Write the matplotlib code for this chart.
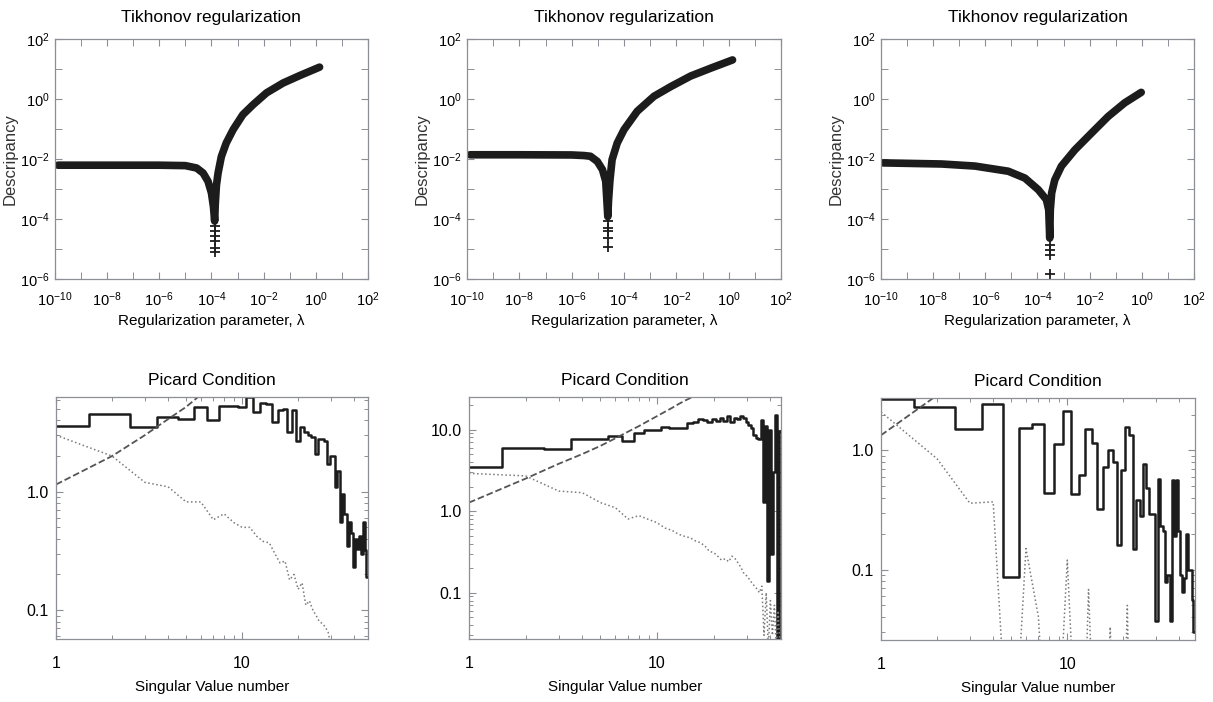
import numpy as np
import matplotlib.pyplot as plt
from matplotlib.ticker import FixedLocator, NullFormatter, LogLocator, FuncFormatter

plt.rcParams['font.family'] = ['Liberation Sans', 'DejaVu Sans']
plt.rcParams['mathtext.default'] = 'regular'

# ---- discrepancy vs regularization parameter (three data sets) ----
lam_a = [1.3e-10, 1e-8, 1e-6, 1e-5, 2.7e-5, 4.8e-5, 7.4e-5, 1.0e-4, 1.2e-4, 1.33e-4,
         1.4e-4, 1.55e-4, 1.8e-4, 2.4e-4, 3.7e-4, 6.8e-4, 1.6e-3, 4.0e-3, 1.3e-2,
         5.6e-2, 0.24, 1.4]
disc_a = [6.2e-3, 6.2e-3, 6.2e-3, 6.0e-3, 5.0e-3, 3.4e-3, 1.8e-3, 7.4e-4, 2.5e-4, 8.5e-5,
          3.0e-4, 1.3e-3, 3.4e-3, 1.2e-2, 3.4e-2, 9.5e-2, 0.30, 0.65, 1.6,
          3.4, 6.0, 11.5]
lam_a_tail = [1.35e-4, 1.35e-4, 1.35e-4, 1.35e-4, 1.35e-4, 1.35e-4]
disc_a_tail = [6e-5, 4e-5, 2.8e-5, 1.9e-5, 1.1e-5, 8e-6]

lam_b = [1.3e-10, 1e-8, 1e-6, 3e-6, 5.2e-6, 9.5e-6, 1.5e-5, 2.0e-5, 2.2e-5, 2.4e-5,
         2.55e-5, 2.9e-5, 3.5e-5, 5.5e-5, 1.0e-4, 3.2e-4, 1.4e-3, 6.2e-3, 3.5e-2,
         0.21, 1.4]
disc_b = [1.38e-2, 1.38e-2, 1.36e-2, 1.3e-2, 1.23e-2, 8.3e-3, 4.4e-3, 1.8e-3, 4.4e-4, 1.2e-4,
          4e-4, 2.0e-3, 9.5e-3, 3.4e-2, 9.5e-2, 0.39, 1.23, 2.6, 5.8,
          10.7, 20.0]
lam_b_tail = [2.45e-5, 2.45e-5, 2.45e-5, 2.45e-5, 2.45e-5]
disc_b_tail = [8.3e-5, 5e-5, 3.9e-5, 2.3e-5, 1.2e-5]

lam_c = [1.2e-10, 2.1e-8, 4e-7, 7.6e-6, 3.3e-5, 1.07e-4, 2.2e-4, 2.7e-4, 2.95e-4,
         3.1e-4, 3.5e-4, 4.6e-4, 8.3e-4, 2.7e-3, 1.2e-2, 5.1e-2, 0.22, 0.95]
disc_c = [7.4e-3, 6.8e-3, 5.8e-3, 3.9e-3, 2.3e-3, 9.5e-4, 4.4e-4, 2.0e-4, 2.3e-5,
          2.0e-4, 7.4e-4, 2.0e-3, 5.8e-3, 2.0e-2, 7.4e-2, 0.26, 0.74, 1.66]
lam_c_tail = [2.95e-4, 2.95e-4, 2.95e-4, 2.95e-4]
disc_c_tail = [1.4e-5, 9.5e-6, 6.5e-6, 1.5e-6]

# ---- Picard plots: ratio (solid), |u_i^T b| (dotted), 1/s_i (dashed) ----
ratio_a = [3.6, 4.5, 3.5, 4.3, 4.1, 5.2, 4.0, 5.3, 5.3, 5.2,
           6.3, 4.7, 5.6, 5.5, 3.9, 4.9, 5.0, 3.2, 4.9, 2.7,
           3.5, 3.2, 3.0, 2.9, 2.1, 2.8, 2.8, 2.7, 1.7, 2.0,
           2.0, 1.1, 1.5, 0.55, 0.95, 0.65, 0.35, 0.55, 0.45, 0.23,
           0.40, 0.33, 0.42, 0.30, 0.55, 0.32, 0.19]
coef_a = [3.0, 2.0, 1.2, 1.1, 0.82, 0.82, 0.58, 0.65, 0.55, 0.5,
          0.5, 0.42, 0.38, 0.37, 0.30, 0.25, 0.26, 0.18, 0.20, 0.15,
          0.17, 0.11, 0.12, 0.10, 0.09, 0.08, 0.077, 0.072, 0.065, 0.05, 0.04]
inv_sv_a = [1.15, 2.0, 3.0, 4.1, 5.2, 6.6, 8.2]

ratio_b = [3.5, 6.0, 5.7, 7.6, 7.6, 8.3, 7.3, 9.0, 10.0, 9.8,
           10.8, 10.5, 10.3, 10.4, 12.0, 12.2, 13.3, 13.0, 12.4, 13.3,
           12.6, 14.0, 12.6, 14.5, 12.3, 14.0, 13.5, 14.5, 14.0, 12.5,
           11.5, 10.5, 8.5, 7.8, 7.6, 13.0, 1.3, 11.0, 0.14, 10.0,
           0.3, 3.0, 15.0, 0.025, 9.5]
coef_b = [2.9, 2.7, 1.76, 1.68, 1.27, 1.1, 0.8, 0.88, 0.79, 0.72,
          0.62, 0.58, 0.52, 0.49, 0.47, 0.43, 0.41, 0.37, 0.32, 0.31,
          0.28, 0.25, 0.26, 0.24, 0.28, 0.26, 0.23, 0.20, 0.17, 0.16,
          0.145, 0.13, 0.12, 0.11, 0.10, 0.12, 0.03, 0.10, 0.02, 0.08,
          0.03, 0.07, 0.02, 0.06, 0.02]
inv_sv_b = [1.27, 2.5, 3.8, 5.0, 6.3, 7.8, 9.4, 11.0, 12.8, 14.6,
            16.5, 18.4, 20.5, 22.5, 24.3, 27.0, 29.5]

ratio_c = [2.7, 2.3, 1.5, 2.45, 0.087, 1.55, 1.67, 0.44, 1.14, 2.14,
           0.43, 0.62, 1.52, 1.16, 0.32, 0.73, 1.0, 0.8, 0.16, 0.68,
           1.57, 1.34, 0.15, 0.38, 0.28, 0.77, 0.48, 0.29, 0.29, 0.037,
           0.58, 0.23, 0.21, 0.079, 0.09, 0.037, 0.56, 0.19, 0.56, 0.21,
           0.09, 0.065, 0.085, 0.2, 0.1, 0.1, 0.055, 0.03]
coef_c = [2.1, 0.85, 0.36, 0.37, 0.001, 0.15, 0.04, 0.001, 0.005, 0.12,
          0.005, 0.001, 0.068, 0.003, 0.001, 0.004, 0.033, 0.002, 0.001, 0.003,
          0.05, 0.001]
inv_sv_c = [1.34, 2.9, 4.6]

FRAME = '#8c8f96'
INK = '#1c1c1c'


def style_frame(ax):
    for s in ax.spines.values():
        s.set_color(FRAME)
        s.set_linewidth(0.9)
    ax.tick_params(which='both', direction='in', top=True, right=True, color=FRAME)
    ax.tick_params(which='major', length=5, width=0.8)
    ax.tick_params(which='minor', length=3, width=0.7)


def tikhonov_panel(ax, lam, disc, lam_tail, disc_tail):
    ax.plot(lam, disc, color=INK, lw=5.5, solid_joinstyle='round', solid_capstyle='round')
    ax.plot(lam_tail, disc_tail, '+', color=INK, ms=6.5, mew=1.3)
    ax.set_xscale('log')
    ax.set_yscale('log')
    ax.set_xlim(1e-10, 1e2)
    ax.set_ylim(1e-6, 1e2)
    ax.xaxis.set_major_locator(FixedLocator(10.0 ** np.arange(-10, 3, 2)))
    ax.xaxis.set_minor_locator(FixedLocator(10.0 ** np.arange(-9, 2, 2)))
    ax.yaxis.set_major_locator(FixedLocator(10.0 ** np.arange(-6, 3, 2)))
    ax.yaxis.set_minor_locator(FixedLocator(10.0 ** np.arange(-5, 2, 2)))
    ax.xaxis.set_minor_formatter(NullFormatter())
    ax.yaxis.set_minor_formatter(NullFormatter())
    style_frame(ax)
    ax.tick_params(which='minor', length=5)
    ax.tick_params(axis='x', pad=8, labelsize=10.5)
    ax.tick_params(axis='y', pad=4, labelsize=10.5)
    ax.set_title('Tikhonov regularization', fontsize=12.5, pad=12)
    ax.set_xlabel('Regularization parameter, λ', fontsize=11, labelpad=4)
    ax.set_ylabel('Descripancy', fontsize=12, color='#333333')
    ax.yaxis.set_label_coords(-0.118, 0.5)


def picard_panel(ax, ratio, coef, inv_sv, ylim, yticks):
    ax.step(np.arange(1, len(ratio) + 1), ratio, where='mid', color=INK, lw=1.8)
    ax.plot(np.arange(1, len(coef) + 1), coef, ':', color='#7a7a7a', lw=1.1)
    ax.plot(np.arange(1, len(inv_sv) + 1), inv_sv, '--', color='#555555', lw=1.3)
    ax.set_xscale('log')
    ax.set_yscale('log')
    ax.set_xlim(1, len(ratio) + 0.5)
    ax.set_ylim(*ylim)
    ax.xaxis.set_major_locator(FixedLocator([1, 10]))
    ax.xaxis.set_major_formatter(FuncFormatter(lambda v, p: '%d' % v))
    ax.xaxis.set_minor_locator(LogLocator(subs=np.arange(2, 10)))
    ax.xaxis.set_minor_formatter(NullFormatter())
    ax.yaxis.set_major_locator(FixedLocator(yticks))
    ax.yaxis.set_major_formatter(FuncFormatter(lambda v, p: '%.1f' % v))
    ax.yaxis.set_minor_locator(LogLocator(subs=np.arange(2, 10)))
    ax.yaxis.set_minor_formatter(NullFormatter())
    style_frame(ax)
    ax.tick_params(axis='x', pad=12, labelsize=11.5)
    ax.tick_params(axis='y', pad=5, labelsize=11.5)
    ax.set_title('Picard Condition', fontsize=12.5, pad=9)
    ax.set_xlabel('Singular Value number', fontsize=11, labelpad=7)


fig = plt.figure(figsize=(12.13, 7.02), dpi=100)

top_axes = [fig.add_axes([0.0453, 0.6026, 0.258, 0.3419]),
            fig.add_axes([0.385, 0.6026, 0.2589, 0.3419]),
            fig.add_axes([0.7263, 0.6026, 0.258, 0.3419])]
tikhonov_panel(top_axes[0], lam_a, disc_a, lam_a_tail, disc_a_tail)
tikhonov_panel(top_axes[1], lam_b, disc_b, lam_b_tail, disc_b_tail)
tikhonov_panel(top_axes[2], lam_c, disc_c, lam_c_tail, disc_c_tail)

bot_axes = [fig.add_axes([0.0462, 0.0897, 0.2572, 0.3447]),
            fig.add_axes([0.3866, 0.0897, 0.2572, 0.3447]),
            fig.add_axes([0.7263, 0.0883, 0.2589, 0.3447])]
picard_panel(bot_axes[0], ratio_a, coef_a, inv_sv_a, (0.057, 6.3), [0.1, 1.0])
picard_panel(bot_axes[1], ratio_b, coef_b, inv_sv_b, (0.027, 25.0), [0.1, 1.0, 10.0])
picard_panel(bot_axes[2], ratio_c, coef_c, inv_sv_c, (0.0256, 2.75), [0.1, 1.0])

fig.savefig('out.png', dpi=100)
